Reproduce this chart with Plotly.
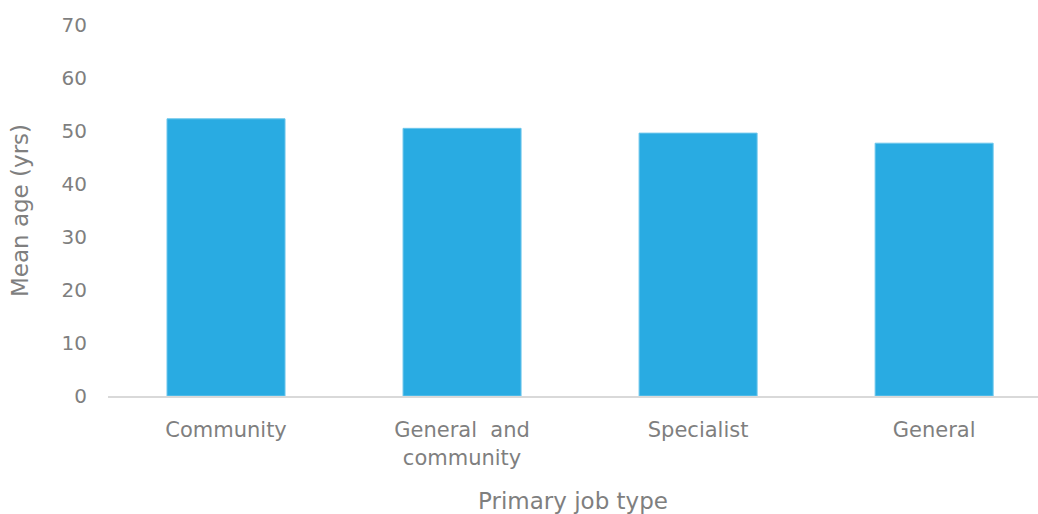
import plotly.graph_objects as go

# Mean age by primary job type
categories = ["Community", "General  and<br>community", "Specialist", "General"]
mean_age = [52.3, 50.5, 49.6, 47.7]
y_ticks = [0, 10, 20, 30, 40, 50, 60, 70]

text_color = "#7f7f7f"
font_family = "DejaVu Sans, Open Sans, sans-serif"

fig = go.Figure(
    go.Bar(
        x=list(range(len(categories))),
        y=mean_age,
        marker=dict(color="#29abe2", line=dict(color="#6cc6ec", width=1)),
        width=0.5,
    )
)

fig.update_layout(
    width=1038,
    height=514,
    margin=dict(l=108, r=0, t=25, b=118),
    plot_bgcolor="white",
    paper_bgcolor="white",
    showlegend=False,
    font=dict(family=font_family, color=text_color, size=19),
)

fig.update_xaxes(
    tickmode="array",
    tickvals=list(range(len(categories))),
    ticktext=categories,
    range=[-0.5, 3.44],
    showgrid=False,
    showline=True,
    linecolor="#d9d9d9",
    linewidth=2,
    ticks="",
    ticklabelstandoff=14,
    tickfont=dict(size=21, color=text_color),
    title=dict(text="Primary job type", font=dict(size=23, color=text_color), standoff=26),
)

fig.update_yaxes(
    range=[0, 70],
    tickmode="array",
    tickvals=y_ticks,
    showgrid=False,
    zeroline=False,
    showline=False,
    ticks="",
    ticklabelstandoff=20,
    tickfont=dict(size=20, color=text_color),
    title=dict(text="Mean age (yrs)", font=dict(size=23, color=text_color), standoff=26),
)

fig.write_html("out.html")
